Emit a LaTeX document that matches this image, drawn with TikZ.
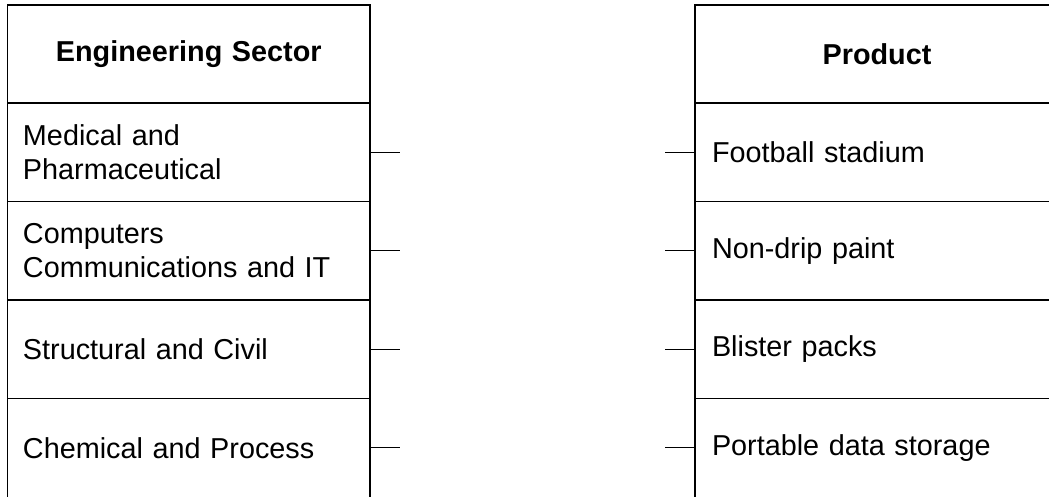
\documentclass[tikz,border=0pt]{standalone}
\usepackage{fontspec}
\setmainfont{Liberation Sans}
\begin{document}
\begin{tikzpicture}[x=1pt,y=-1pt,
  lcell/.style={draw, line width=1.3pt, rectangle, inner xsep=15.5pt, inner ysep=0pt,
    align=left, text width=331.5pt, minimum height=98.5pt, outer sep=0pt,
    font=\fontsize{28.8}{34}\selectfont},
  rcell/.style={lcell, inner xsep=17pt, text width=330pt},
  opencell/.style={draw=none},
  headcell/.style={align=center, minimum height=98pt, font=\fontsize{28.8}{34}\selectfont\bfseries},
  stub/.style={line width=1.3pt}]
\useasboundingbox (0,0) rectangle (1049,496);
% left column
\node[lcell, headcell] (lh) at (188.75,54) {Engineering Sector};
\node[lcell] (l1) at (188.75,152.25) {Medical and\\Pharmaceutical};
\node[lcell] (l2) at (188.75,250.75) {Computers\\Communications and IT};
\node[lcell] (l3) at (188.75,349.25) {Structural and Civil};
\node[lcell, opencell] (l4) at (188.75,447.75) {Chemical and Process};
% right column
\node[rcell, headcell] (rh) at (877,54) {Product};
\node[rcell] (r1) at (877,152.25) {Football stadium};
\node[rcell] (r2) at (877,250.75) {Non-drip paint};
\node[rcell] (r3) at (877,349.25) {Blister packs};
\node[rcell, opencell] (r4) at (877,447.75) {Portable data storage};
% open-bottom sides of the last rows
\draw[stub] (l4.north west) -- ([yshift=-20pt]l4.south west);
\draw[stub] (l4.north east) -- ([yshift=-20pt]l4.south east);
\draw[stub] (r4.north west) -- ([yshift=-20pt]r4.south west);
\draw[stub] (r4.north east) -- ([yshift=-20pt]r4.south east);
% stubs
\foreach \i in {1,2,3,4}{
  \coordinate (le\i) at ([xshift=30pt]l\i.east);
  \coordinate (re\i) at ([xshift=-30pt]r\i.west);
  \draw[stub] (l\i.east) -- (le\i);
  \draw[stub] (r\i.west) -- (re\i);
}
\end{tikzpicture}
\end{document}
